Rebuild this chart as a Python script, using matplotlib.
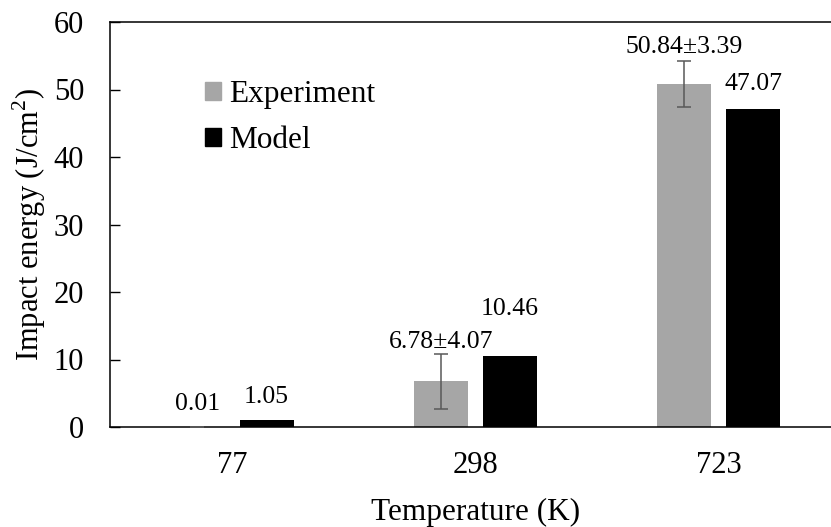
import matplotlib
matplotlib.use("Agg")
import matplotlib.pyplot as plt
import matplotlib.patches as mpatches
import numpy as np

plt.rcParams["font.family"] = ["Liberation Serif", "DejaVu Serif"]
plt.rcParams["mathtext.fontset"] = "custom"
plt.rcParams["mathtext.rm"] = "Liberation Serif"

# data
temps = ["77", "298", "723"]
experiment = [0.01, 6.78, 50.84]
experiment_err = [0.0, 4.07, 3.39]
model = [1.05, 10.46, 47.07]
exp_labels = ["0.01", "6.78\u00b14.07", "50.84\u00b13.39"]
model_labels = ["1.05", "10.46", "47.07"]

# label lift above bar/error-bar top, in pixels (as in the original)
exp_lift = [17, 6, 8]
model_lift = [17, 41, 19]

W, H = 831, 527
fig = plt.figure(figsize=(W / 100, H / 100), dpi=100)
# axes runs past the right edge of the figure, like the cropped original
ax = fig.add_axes([110.4 / W, (H - 427) / H, 729.7 / W, 405 / H])

x = np.arange(len(temps))
bw = 0.222
off = 0.142
gray = "#a6a6a6"

ax.bar(x - off, experiment, bw, color=gray, zorder=2)
ax.bar(x + off, model, bw, color="black", zorder=2)
ax.errorbar(x - off, experiment, yerr=experiment_err, fmt="none",
            ecolor="#595959", elinewidth=1.1, capsize=5, capthick=1.1, zorder=3)

for i in range(len(temps)):
    ax.annotate(exp_labels[i], xy=(x[i] - off, experiment[i] + experiment_err[i]),
                xytext=(0, exp_lift[i]), textcoords="offset pixels",
                ha="center", va="baseline", fontsize=18.5)
    ax.annotate(model_labels[i], xy=(x[i] + off, model[i]),
                xytext=(0, model_lift[i]), textcoords="offset pixels",
                ha="center", va="baseline", fontsize=18.5)

ax.set_xlim(-0.5, 2.5)
ax.set_ylim(0, 60)
ax.set_yticks(range(0, 61, 10))
ax.set_xticks(x)
ax.set_xticklabels(temps)
ax.tick_params(axis="y", direction="in", length=7, width=1, pad=19, labelsize=22)
ax.tick_params(axis="x", length=0, pad=17, labelsize=22)
ax.spines["right"].set_visible(False)
for s in ["left", "top", "bottom"]:
    ax.spines[s].set_linewidth(1.1)

ax.set_xlabel("Temperature (K)", fontsize=22.5, labelpad=13)
ax.set_ylabel(r"Impact energy (J/cm$^{2}$)", fontsize=22, labelpad=4)

handles = [mpatches.Patch(color=gray, label="Experiment"),
           mpatches.Patch(color="black", label="Model")]
fig.legend(handles=handles, loc="upper left", bbox_to_anchor=(205 / W, 1 - 80 / H),
           frameon=False, fontsize=22.5, handlelength=0.52, handleheight=0.52,
           handletextpad=0.26, labelspacing=0.55, borderpad=0, borderaxespad=0)

fig.savefig("out.png", dpi=100)
